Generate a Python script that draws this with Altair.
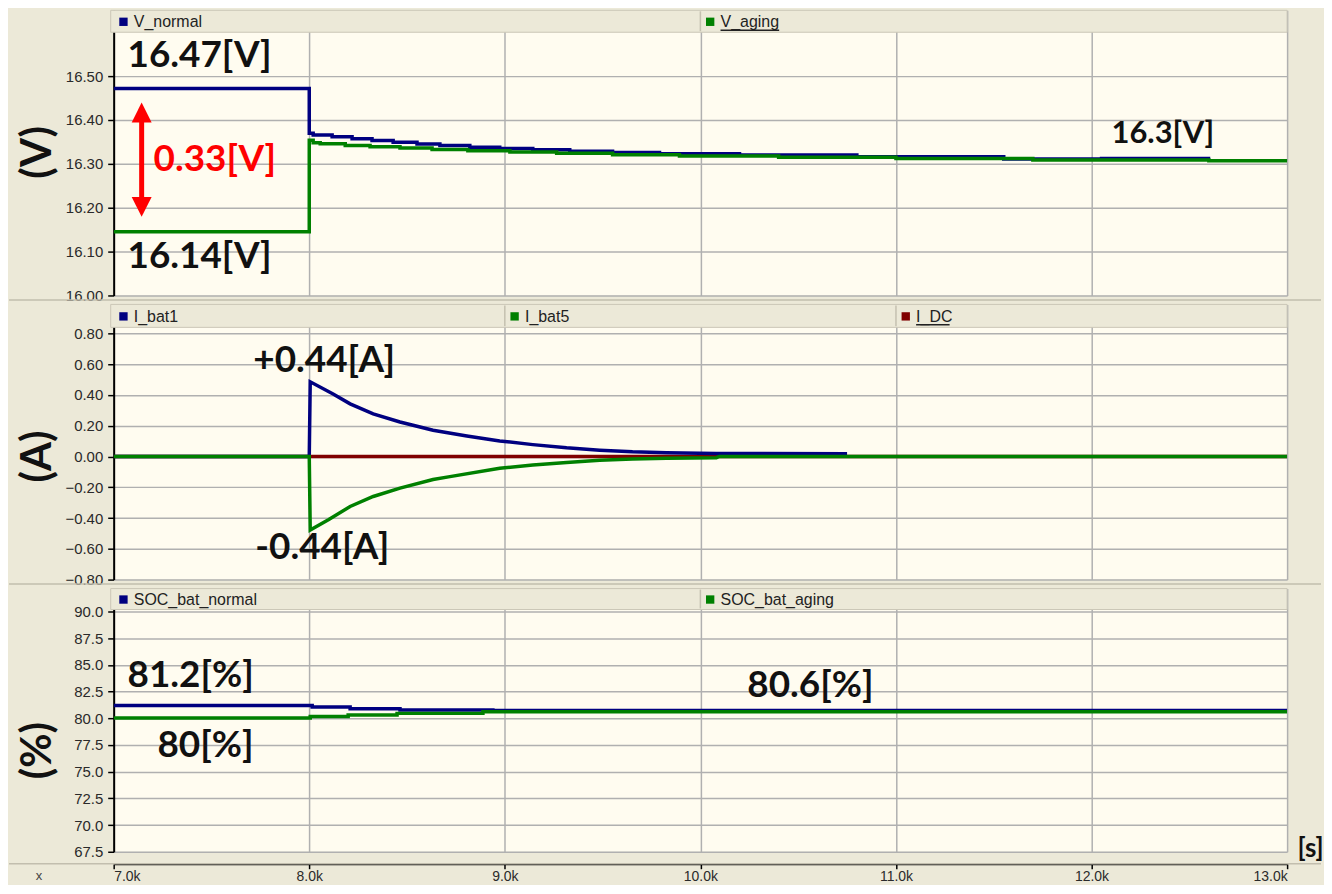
import altair as alt
import pandas as pd

# ---------------- data ----------------
X_TICKS = [7000, 8000, 9000, 10000, 11000, 12000, 13000]

# panel 1 : battery voltages [V]  (stair-step series)
v_normal_t = [7000, 8000, 8020, 8117, 8219, 8321, 8429, 8551, 8668, 8821, 8974, 9143,
              9332, 9551, 9791, 10200, 10800, 11551, 12051, 12607]
v_normal_v = [16.472, 16.370, 16.366, 16.362, 16.357, 16.353, 16.349, 16.345, 16.342,
              16.338, 16.335, 16.332, 16.329, 16.326, 16.323, 16.320, 16.316, 16.311,
              16.3125, 16.3125]
v_aging_t = [7000, 8000, 8020, 8056, 8184, 8311, 8464, 8628, 8811, 9026, 9265, 9551,
             9893, 10400, 11000, 11700, 12600, 13000]
v_aging_v = [16.145, 16.354, 16.348, 16.346, 16.342, 16.339, 16.336, 16.333, 16.330,
             16.327, 16.324, 16.321, 16.318, 16.315, 16.312, 16.309, 16.307, 16.306]
V_TICKS = [16.0, 16.1, 16.2, 16.3, 16.4, 16.5]
V_NAMES = ["V_normal", "V_aging"]
V_UNDERLINED = [False, True]

# panel 2 : battery currents [A]
i_bat1_t = [7000, 8000, 8005, 8122, 8209, 8327, 8464, 8633, 8806, 8974, 9143, 9316,
            9485, 9653, 9827, 10082, 10750]
i_bat1_v = [0, 0, 0.485, 0.406, 0.342, 0.277, 0.224, 0.170, 0.133, 0.101, 0.077,
            0.056, 0.041, 0.030, 0.024, 0.019, 0.018]
i_bat5_t = [7000, 8000, 8005, 8100, 8209, 8327, 8464, 8633, 8719, 8974, 9143, 9316,
            9485, 9653, 9827, 10082, 10097, 13000]
i_bat5_v = [0, 0, -0.478, -0.41, -0.325, -0.26, -0.206, -0.150, -0.131, -0.077,
            -0.055, -0.039, -0.024, -0.017, -0.012, -0.008, 0, 0]
i_dc_t = [7000, 13000]
i_dc_v = [0, 0]
I_TICKS = [-0.8, -0.6, -0.4, -0.2, 0.0, 0.2, 0.4, 0.6, 0.8]
I_NAMES = ["I_bat1", "I_bat5", "I_DC"]
I_UNDERLINED = [False, False, True]

# panel 3 : state of charge [%]
soc_normal_t = [7000, 8015, 8209, 8464, 8939, 13000]
soc_normal_v = [81.2, 81.05, 80.9, 80.77, 80.72, 80.72]
soc_aging_t = [7000, 8005, 8199, 8449, 8888, 13000]
soc_aging_v = [80.03, 80.16, 80.31, 80.46, 80.62, 80.62]
S_TICKS = [67.5, 70.0, 72.5, 75.0, 77.5, 80.0, 82.5, 85.0, 87.5, 90.0]
S_NAMES = ["SOC_bat_normal", "SOC_bat_aging"]
S_UNDERLINED = [False, False]

# annotations (text, x in s, y in data units)
v_lab = ["16.47[V]", "16.14[V]", "0.33[V]", "16.3[V]"]
v_lab_t = [7071, 7071, 7204, 12102]
v_lab_v = [16.545, 16.087, 16.308, 16.368]
i_lab = ["+0.44[A]", "-0.44[A]"]
i_lab_t = [7714, 7724]
i_lab_v = [0.62, -0.594]
s_lab = ["81.2[%]", "80[%]", "80.6[%]"]
s_lab_t = [7071, 7224, 10240]
s_lab_v = [83.98, 77.41, 83.06]
arrow_t = [7143, 7143]
arrow_v = [16.417, 16.202]

# ---------------- styling ----------------
NAVY, GREEN, DRED, RED = "#000080", "#008000", "#800000", "#FF0000"
BEIGE, CREAM, HEAD = "#ECE9D8", "#FFFCF0", "#ECE9D8"
W = 1177
BIGFONT = "Lato"
SMALLFONT = "Liberation Sans"
PX_PER_UNIT = W / 6000.0


def make_panel(series, names, name_colors, underlined, lo, hi, ticks, fmt, H, hh, off,
               ytitle, ytitle_y, interp, labels, label_sizes, bottom_axis=False,
               extras=()):
    top = lo + (hi - lo) * H / (H - off)
    xs = alt.Scale(domain=[7000, 13000], nice=False, zero=False)
    ys = alt.Scale(domain=[lo, top], nice=False, zero=False)
    if bottom_axis:
        xax = alt.Axis(values=X_TICKS, grid=True, offset=12, tickSize=5,
                       labelExpr="format(datum.value/1000, '.1f') + 'k'",
                       labelPadding=1, labelFontSize=14, domainColor="black",
                       domainWidth=2, title="[s]", titleX=W + 10, titleY=-15,
                       titleAngle=0, titleAlign="left", titleBaseline="middle",
                       titleFont=BIGFONT, titleFontSize=26, titleFontWeight="bold",
                       titleColor="#111")
    else:
        xax = alt.Axis(values=X_TICKS, grid=True, labels=False, ticks=False,
                       domain=False, title="")
    yax = alt.Axis(values=ticks, format=fmt, grid=True, tickSize=6, labelPadding=5,
                   title=ytitle, titleX=-76, titleY=ytitle_y, titleAngle=270,
                   titleAlign="center", titleBaseline="middle", titleFontSize=42,
                   titleFont=BIGFONT, titleFontWeight="bold", titleColor="#111")
    xenc = alt.X("t:Q", scale=xs, axis=xax)
    yenc = alt.Y("v:Q", scale=ys, axis=yax)

    layers = []
    for t, v, c in series:
        layers.append(alt.Chart(pd.DataFrame({"t": t, "v": v})).mark_line(
            color=c, strokeWidth=3.5, interpolate=interp, clip=True,
            strokeCap="butt").encode(x=xenc, y=yenc))

    one = pd.DataFrame({"k": [0]})
    # legend header bar
    layers.append(alt.Chart(one).mark_rect(fill=HEAD, stroke="#CBC7B7",
                                           strokeWidth=1).encode(
        x=alt.value(-3), x2=alt.value(W), y=alt.value(0), y2=alt.value(hh)))
    n = len(names)
    starts = [7000 + i * 6000 / n for i in range(n)]
    if n > 1:
        div = pd.DataFrame({"t": starts[1:]})
        layers.append(alt.Chart(div).mark_rule(color="#C4C0B0", strokeWidth=1.5).encode(
            x=xenc, y=alt.value(1), y2=alt.value(hh - 1)))
    for s, nm, c, ul in zip(starts, names, name_colors, underlined):
        sq = pd.DataFrame({"t": [s + 50]})
        layers.append(alt.Chart(sq).mark_square(size=70, opacity=1, color=c).encode(
            x=xenc, y=alt.value(hh / 2 + 0.5)))
        tx = pd.DataFrame({"t": [s + 103], "name": [nm]})
        layers.append(alt.Chart(tx).mark_text(
            align="left", baseline="middle", font=SMALLFONT, fontSize=16,
            color="#222").encode(x=xenc, y=alt.value(hh / 2 + 1), text="name:N"))
        if ul:
            u = pd.DataFrame({"t": [s + 103], "t2": [s + 103 + len(nm) * 8.4 / PX_PER_UNIT]})
            layers.append(alt.Chart(u).mark_rule(color="#222", strokeWidth=1.5).encode(
                x=xenc, x2="t2:Q", y=alt.value(hh / 2 + 9)))

    # separator line under the panel
    sep_y = H + 12 if bottom_axis else H + 4.5
    layers.append(alt.Chart(one).mark_rule(color="#C2BEAE", strokeWidth=1.5).encode(
        x=alt.value(-105), x2=alt.value(W + 34), y=alt.value(sep_y)))

    for ex in extras:
        layers.append(ex(xenc, yenc))

    (lt, lx, lv) = labels
    for txt, x, v, sz, col in zip(lt, lx, lv, label_sizes[0], label_sizes[1]):
        d = pd.DataFrame({"t": [x], "v": [v], "label": [txt]})
        layers.append(alt.Chart(d).mark_text(
            align="left", baseline="middle", font=BIGFONT, fontWeight="bold",
            fontSize=sz, color=col).encode(x=xenc, y=yenc, text="label:N"))

    return alt.layer(*layers).properties(width=W, height=H)


def arrow_layers(xenc, yenc):
    d = pd.DataFrame({"t": arrow_t, "v": arrow_v})
    line = alt.Chart(d).mark_line(color=RED, strokeWidth=5).encode(x=xenc, y=yenc)
    up = alt.Chart(d.iloc[[0]]).mark_point(
        shape="M0,-1L1,1L-1,1Z", size=400, filled=True, opacity=1,
        color=RED).encode(x=xenc, y=yenc)
    dn = alt.Chart(d.iloc[[1]]).mark_point(
        shape="M0,1L1,-1L-1,-1Z", size=400, filled=True, opacity=1,
        color=RED).encode(x=xenc, y=yenc)
    return alt.layer(line, up, dn)


def x_label(xenc, yenc):
    one = pd.DataFrame({"k": [0]})
    return alt.Chart(one).mark_text(text="x", font=SMALLFONT, fontSize=13,
                                    color="#444").encode(
        x=alt.value(-75), y=alt.value(288))


p1 = make_panel([(v_normal_t, v_normal_v, NAVY), (v_aging_t, v_aging_v, GREEN)],
                V_NAMES, [NAVY, GREEN], V_UNDERLINED, 16.0, 16.6, V_TICKS, ".2f",
                286, 22, 22, "(V)", 142, "step-after", (v_lab, v_lab_t, v_lab_v),
                ([37, 37, 37, 31], ["#111", "#111", RED, "#111"]),
                extras=(arrow_layers,))
p2 = make_panel([(i_dc_t, i_dc_v, DRED), (i_bat1_t, i_bat1_v, NAVY),
                 (i_bat5_t, i_bat5_v, GREEN)],
                I_NAMES, [NAVY, GREEN, DRED], I_UNDERLINED, -0.8, 0.8, I_TICKS, ".2f",
                276, 23, 29, "(A)", 152, "linear", (i_lab, i_lab_t, i_lab_v),
                ([37, 37], ["#111", "#111"]))
p3 = make_panel([(soc_normal_t, soc_normal_v, NAVY), (soc_aging_t, soc_aging_v, GREEN)],
                S_NAMES, [NAVY, GREEN], S_UNDERLINED, 67.5, 90.0, S_TICKS, ".1f",
                264, 21, 23, "(%)", 162, "step-after", (s_lab, s_lab_t, s_lab_v),
                ([37, 37, 37], ["#111", "#111", "#111"]), bottom_axis=True,
                extras=(x_label,))

chart = alt.vconcat(p1, p2, p3, spacing=9, bounds="flush").properties(
    padding={"left": 0, "top": 0, "right": 0, "bottom": 0},
    background=BEIGE,
).configure_view(fill=CREAM, strokeWidth=0).configure_axis(
    labelFont=SMALLFONT, labelFontSize=15, labelColor="#2A2A2A",
    domainColor="black", domainWidth=2, tickColor="black", tickWidth=1.5,
    gridColor="#B0B0B0", gridWidth=1.5)

chart.save("out.html", embed_options={"renderer": "svg", "actions": False})
